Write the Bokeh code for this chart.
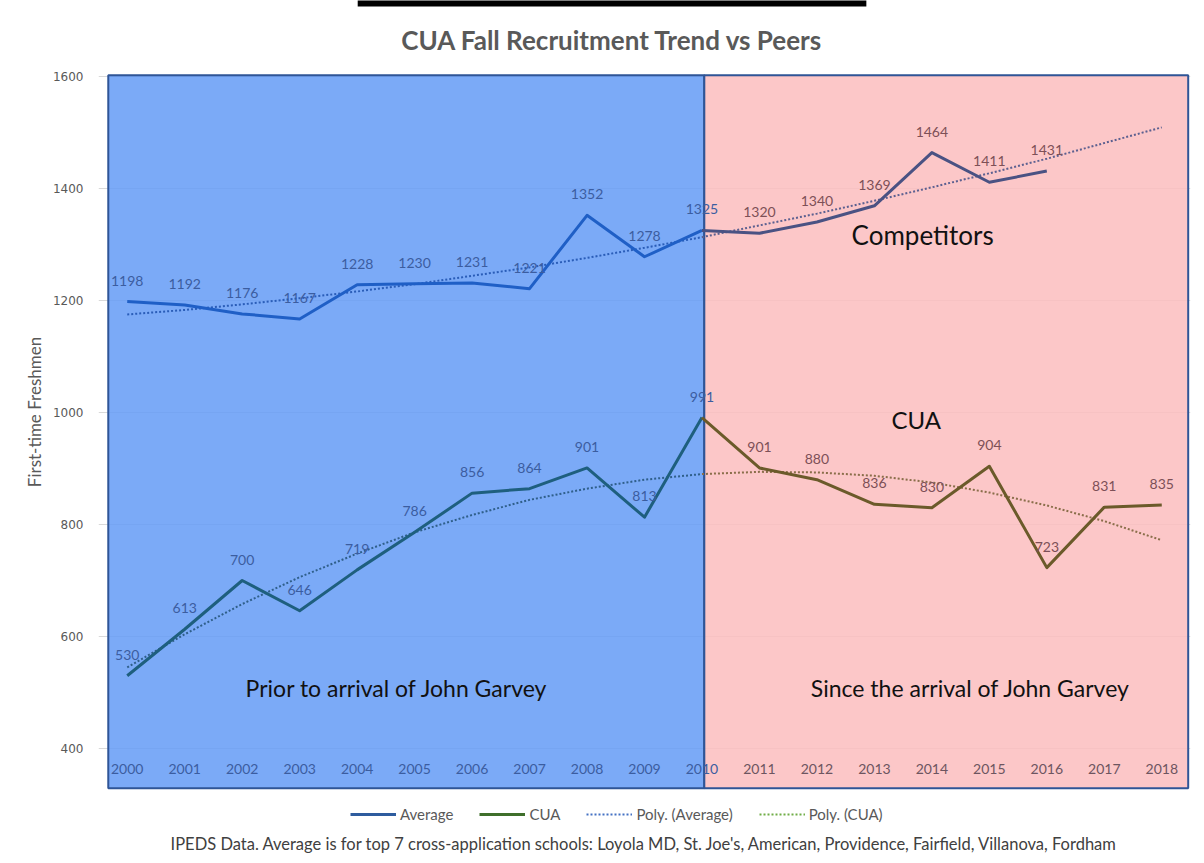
from bokeh.plotting import figure
from bokeh.models import Range1d, FixedTicker, Legend, LegendItem, Label, Title
from bokeh.core.properties import value
from bokeh.embed import file_html
from bokeh.resources import INLINE

# ---------------- data ----------------
years = [2000, 2001, 2002, 2003, 2004, 2005, 2006, 2007, 2008, 2009,
         2010, 2011, 2012, 2013, 2014, 2015, 2016, 2017, 2018]
year_labels = ["2000", "2001", "2002", "2003", "2004", "2005", "2006", "2007", "2008", "2009",
               "2010", "2011", "2012", "2013", "2014", "2015", "2016", "2017", "2018"]
average = [1198, 1192, 1176, 1167, 1228, 1230, 1231, 1221, 1352, 1278,
           1325, 1320, 1340, 1369, 1464, 1411, 1431]
cua = [530, 613, 700, 646, 719, 786, 856, 864, 901, 813,
       991, 901, 880, 836, 830, 904, 723, 831, 835]
# polynomial trend lines as drawn in the chart (read per year)
avg_trend = [1175, 1183, 1193, 1204, 1216, 1229, 1244, 1259, 1276, 1294,
             1313, 1334, 1355, 1378, 1402, 1427, 1453, 1481, 1509]
cua_trend = [545, 604, 658, 706, 748, 786, 817, 844, 864, 880,
             890, 894, 893, 887, 875, 857, 834, 806, 772]
y_ticks = [400, 600, 800, 1000, 1200, 1400, 1600]
SPLIT = 10  # index of 2010, start of "Since the arrival" period

FONT = "Lato"

p = figure(width=1200, height=862,
           x_range=Range1d(1999.5, 2018.5), y_range=Range1d(266.2, 1735.5),
           output_backend="svg", toolbar_location=None, x_axis_location=None,
           min_border_left=98, min_border_right=10, min_border_top=0, min_border_bottom=38)
p.outline_line_color = None
p.background_fill_color = "white"

# y axis
p.yaxis.ticker = FixedTicker(ticks=y_ticks)
p.yaxis.axis_line_color = None
p.yaxis.major_tick_line_color = None
p.yaxis.major_tick_out = 0
p.yaxis.major_tick_in = 0
p.yaxis.minor_tick_line_color = None
p.yaxis.major_label_standoff = 15
p.yaxis.major_label_text_font = "DejaVu Sans"
p.yaxis.major_label_text_font_size = "12px"
p.yaxis.major_label_text_color = "#595959"
p.yaxis.axis_label = "First-time Freshmen"
p.yaxis.axis_label_text_font = FONT
p.yaxis.axis_label_text_font_style = "normal"
p.yaxis.axis_label_text_font_size = "17px"
p.yaxis.axis_label_text_color = "#595959"
p.yaxis.axis_label_standoff = 5
p.ygrid.grid_line_color = "#D9D9D9"
p.xgrid.visible = False

# cropped header bar at the very top of the picture
p.quad(left=[2004.01], right=[2012.86], bottom=[1724.8], top=[1740],
       fill_color="black", line_color=None)

# period shapes (semi transparent so grid shows through)
p.quad(left=[1999.67], right=[2010.04], bottom=[329], top=[1602],
       fill_color="#649BF6", fill_alpha=0.85, line_color="#2F5597", line_width=2)
p.quad(left=[2010.04], right=[2018.46], bottom=[329], top=[1602],
       fill_color="#FCBDBE", fill_alpha=0.85, line_color="#2F5597", line_width=2)

n_avg = len(average)

# trend lines (dotted)
p.line(years[:SPLIT + 1], avg_trend[:SPLIT + 1], line_color="#2A5DB8", line_width=2, line_dash="2 2")
p.line(years[SPLIT:], avg_trend[SPLIT:], line_color="#5C6090", line_width=2, line_dash="2 2")
p.line(years[:SPLIT + 1], cua_trend[:SPLIT + 1], line_color="#2F5F8A", line_width=2, line_dash="2 2")
p.line(years[SPLIT:], cua_trend[SPLIT:], line_color="#8A6E4A", line_width=2, line_dash="2 2")

# main series
p.line(years[:SPLIT + 1], average[:SPLIT + 1], line_color="#1F5FC6", line_width=3, line_join="round")
p.line(years[SPLIT:n_avg], average[SPLIT:], line_color="#4A5283", line_width=3, line_join="round")
p.line(years[:SPLIT + 1], cua[:SPLIT + 1], line_color="#1E5F7E", line_width=3, line_join="round")
p.line(years[SPLIT:], cua[SPLIT:], line_color="#6B5A2A", line_width=3, line_join="round")

# data labels
lab_kw = dict(text_align="center", text_baseline="middle", y_offset=-21,
              text_font=value(FONT), text_font_size="14px")
p.text(years[:SPLIT + 1], average[:SPLIT + 1], text=[str(v) for v in average[:SPLIT + 1]],
       text_color="#3B5DA0", **lab_kw)
p.text(years[SPLIT + 1:n_avg], average[SPLIT + 1:], text=[str(v) for v in average[SPLIT + 1:]],
       text_color="#7D5057", **lab_kw)
p.text(years[:SPLIT + 1], cua[:SPLIT + 1], text=[str(v) for v in cua[:SPLIT + 1]],
       text_color="#3B5DA0", **lab_kw)
p.text(years[SPLIT + 1:], cua[SPLIT + 1:], text=[str(v) for v in cua[SPLIT + 1:]],
       text_color="#7D5057", **lab_kw)

# category (year) labels inside the shapes
yr_kw = dict(text_align="center", text_baseline="middle",
             text_font=value(FONT), text_font_size="14px")
p.text(years[:SPLIT + 1], [364.3] * (SPLIT + 1), text=year_labels[:SPLIT + 1],
       text_color="#3B5DA0", **yr_kw)
p.text(years[SPLIT + 1:], [364.3] * (len(years) - SPLIT - 1), text=year_labels[SPLIT + 1:],
       text_color="#6D5560", **yr_kw)

# annotations
def add_label(x, y, text, size, color, style="normal"):
    p.add_layout(Label(x=x, y=y, text=text, text_font=FONT, text_font_size=size,
                       text_color=color, text_font_style=style,
                       text_align="center", text_baseline="middle"))

add_label(2008.44, 1664.2, "CUA Fall Recruitment Trend vs Peers", "26px", "#595959", "bold")
add_label(2013.84, 1317, "Competitors", "26px", "#111111")
add_label(2013.73, 987, "CUA", "24px", "#111111")
add_label(2004.69, 509, "Prior to arrival of John Garvey", "23px", "#111111")
add_label(2014.67, 509, "Since the arrival of John Garvey", "23px", "#111111")

# footer note
footer = Title(text="IPEDS Data. Average is for top 7 cross-application schools: Loyola MD, "
                    "St. Joe's, American, Providence, Fairfield, Villanova, Fordham",
               align="center", text_font=FONT, text_font_size="16.5px",
               text_font_style="normal", text_color="#404040", standoff=17)
p.add_layout(footer, "below")

# legend (swatches use the legend colours of the original series; data kept off-canvas)
r1 = p.line([1990, 1991], [0, 0], line_color="#2E5C9E", line_width=3)
r2 = p.line([1990, 1991], [0, 0], line_color="#3F6F2B", line_width=3)
r3 = p.line([1990, 1991], [0, 0], line_color="#4472C4", line_width=2, line_dash="2 2")
r4 = p.line([1990, 1991], [0, 0], line_color="#70AD47", line_width=2, line_dash="2 2")
legend = Legend(items=[LegendItem(label="Average", renderers=[r1]),
                       LegendItem(label="CUA", renderers=[r2]),
                       LegendItem(label="Poly. (Average)", renderers=[r3]),
                       LegendItem(label="Poly. (CUA)", renderers=[r4])],
                orientation="horizontal", location=(252, 0),
                border_line_color=None, background_fill_alpha=0,
                padding=0, margin=0, spacing=26, glyph_width=46, glyph_height=14,
                label_height=14, label_standoff=4, label_text_font=FONT,
                label_text_font_size="15px", label_text_color="#595959")
p.add_layout(legend)

open("out.html", "w").write(file_html(p, INLINE))
